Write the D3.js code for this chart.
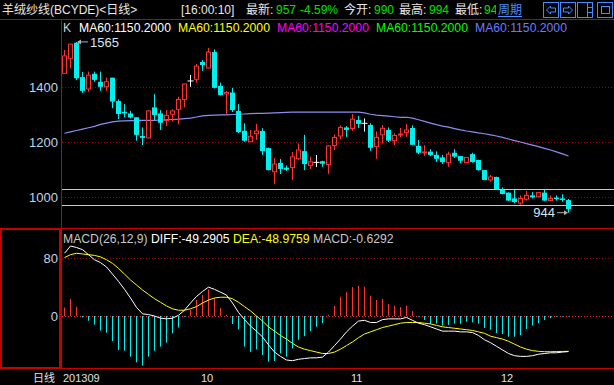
<!DOCTYPE html>
<html>
<head>
<meta charset="utf-8">
<script src="https://cdn.jsdelivr.net/npm/d3@7"></script>
<style>
body { margin: 0; background: #000; overflow: hidden; }
svg { display: block; }
text { font-family: "Liberation Sans", "Noto Sans CJK SC", sans-serif; }
</style>
</head>
<body>
<div id="chart"></div>
<script>
// daily candles
const opens  = [1451,1504,1562,1437,1394,1449,1420,1402,1435,1350,1311,1305,1291,1223,1216,1327,1305,1279,1302,1320,1356,1423,1429,1492,1470,1528,1405,1376,1381,1314,1242,1202,1231,1241,1179,1093,1125,1108,1108,1140,1168,1116,1127,1131,1119,1188,1223,1254,1250,1281,1269,1263,1184,1227,1245,1206,1227,1235,1252,1187,1162,1166,1154,1145,1126,1162,1150,1126,1157,1136,1099,1063,1074,1027,1017,996,979,993,1007,1002,1017,988,999,996,990];
const highs  = [1536,1557,1565,1456,1457,1457,1457,1435,1435,1356,1339,1314,1291,1254,1317,1375,1317,1317,1320,1366,1412,1445,1485,1499,1543,1538,1417,1387,1398,1339,1269,1245,1267,1251,1181,1143,1139,1116,1165,1196,1227,1148,1154,1133,1189,1228,1262,1259,1303,1296,1287,1269,1240,1263,1254,1233,1252,1267,1262,1208,1190,1175,1167,1154,1166,1175,1150,1146,1162,1136,1099,1081,1075,1036,1018,1027,1007,1023,1019,1019,1027,1007,1007,1011,994];
const lows   = [1451,1469,1426,1380,1384,1420,1387,1387,1324,1285,1291,1287,1206,1190,1216,1281,1245,1259,1275,1265,1327,1402,1417,1460,1468,1396,1370,1303,1310,1234,1202,1202,1208,1154,1098,1048,1085,1096,1063,1136,1099,1103,1110,1111,1085,1172,1211,1220,1242,1252,1239,1169,1140,1196,1201,1190,1218,1220,1189,1157,1150,1150,1128,1121,1111,1143,1124,1125,1126,1097,1062,1057,1027,1011,987,978,973,988,996,1000,987,987,988,984,944];
const closes = [1514,1557,1433,1387,1444,1427,1402,1420,1348,1303,1305,1290,1227,1216,1314,1299,1271,1298,1314,1356,1412,1423,1477,1481,1528,1398,1372,1381,1317,1237,1206,1222,1241,1168,1099,1121,1103,1100,1147,1172,1121,1129,1127,1122,1187,1218,1254,1245,1284,1267,1269,1180,1218,1251,1206,1225,1230,1245,1191,1162,1165,1154,1140,1128,1157,1148,1133,1145,1128,1099,1063,1074,1029,1012,988,983,996,1007,1000,1017,988,996,995,990,957];
const ma60   = [1233,1238,1243,1248,1253,1258,1265,1270,1274,1277,1278,1279,1279,1280,1280,1280,1281,1282,1283,1284,1286,1288,1292,1296,1298,1299,1300,1300,1301,1302,1303,1304,1305,1305,1306,1307,1308,1309,1310,1310,1310,1310,1310,1310,1310,1310,1310,1310,1310,1310,1307,1302,1299,1297,1295,1293,1291,1291,1288,1282,1276,1270,1264,1259,1255,1250,1245,1241,1238,1234,1231,1227,1223,1218,1212,1206,1201,1195,1190,1184,1178,1172,1165,1158,1150.2];

// MACD(26,12,9)
const diff = [87,97,95,92,85,78,74,68,58,48,37,25,12,3,2,0,-3,-4,-3,1,8,18,27,34,40,37,33,29,18,5,-5,-14,-21,-29,-40,-50,-56,-61,-62,-60,-59,-58,-58,-57,-50,-41,-32,-22,-14,-7,-6,-9,-9,-5,-4,-4,-4,-2,-6,-10,-12,-15,-18,-21,-21,-21,-22,-22,-23,-27,-33,-37,-42,-47,-52,-55,-56,-56,-55,-53,-52,-51,-51,-50,-49.2905];
const dea  = [81,85,87,86,85,84,82,78,73,66,58,50,43,36,30,24,19,14,10,8,8,10,13,18,22,25,26,26,24,19,13,7,0,-7,-15,-21,-27,-32,-38,-43,-46,-48,-50,-52,-52,-50,-46,-41,-36,-30,-25,-22,-19,-16,-14,-12,-10,-9,-9,-9,-10,-11,-13,-15,-16,-17,-18,-19,-20,-22,-24,-28,-30,-32,-35,-39,-43,-46,-48,-49,-49.5,-49.5,-49.3,-49.1,-48.9759];
const macdBars = [12,23.6,12.9,-1.8,-6.5,-12,-20.3,-23.1,-34.7,-47.2,-48.1,-56.4,-64.3,-68.9,-56.4,-48.1,-42.5,-37,-24,-16,-1,8.3,22.2,29.1,37,24.5,11.1,1.8,-11.1,-18.5,-42.5,-49.5,-46.2,-54.1,-63.3,-62.4,-51.8,-56.4,-45,-33,-28,-21,-15,-10,1.8,13.9,26.8,33,40,41.6,40.5,28.2,22.2,23.6,16.6,14,12.5,14.3,6.9,-0.9,-5.5,-11,-10.5,-13.4,-12.3,-10.6,-10.8,-7.9,-8.8,-10.6,-16.6,-19,-23.5,-25,-28.7,-28.7,-26.4,-18,-13,-10,-5.5,-3,-0.9,-0.9,-0.6292];

const priceTicks = [1000, 1200, 1400];
const macdTicks = [0, 80];
const refLines = [1029, 971];
const monthIdx = [0, 23, 48, 73];
const monthText = ['201309', '10', '11', '12'];
const maLegend = ['#ffffff', '#ffff00', '#ff00ff', '#00ff00', '#6a7cff'];

const width = 614, height = 385;
const RED = '#ff3232', CYAN = '#00f0f0', FRAME = '#c80000';

const svg = d3.select('#chart').append('svg')
              .attr('width', width)
              .attr('height', height);

const x = d3.scaleBand()
            .domain(d3.range(closes.length))
            .range([61, 61 + 6 * closes.length]);
const cx = i => x(i) + 3;

const y = d3.scaleLinear().domain([1000, 1400]).range([197.3, 87.3]);
const ym = d3.scaleLinear().domain([0, 80]).range([316, 258.3]);

// header
const head = svg.append('g').attr('font-size', 12);
const headItems = [
    [2, '羊绒纱线(BCYDE)<日线>', '#e8e8e8'],
    [181, '[16:00:10]', '#e8e8e8'],
    [246, '最新:', '#e8e8e8'],
    [276, '957', '#00e000'],
    [300, '-4.59%', '#00e000'],
    [344, '今开:', '#e8e8e8'],
    [374, '990', '#00e000'],
    [399, '最高:', '#e8e8e8'],
    [429, '994', '#00e000'],
    [455, '最低:', '#e8e8e8']
];
head.selectAll('text.h').data(headItems).enter().append('text')
    .attr('class', 'h')
    .attr('x', d => d[0]).attr('y', 14)
    .attr('fill', d => d[2])
    .text(d => d[1]);

svg.append('clipPath').attr('id', 'lowclip')
   .append('rect').attr('x', 0).attr('y', 0).attr('width', 496).attr('height', 19);
head.append('text')
    .attr('x', 484).attr('y', 14)
    .attr('fill', '#00e000')
    .attr('clip-path', 'url(#lowclip)')
    .text('94');
head.append('text')
    .attr('x', 498).attr('y', 14)
    .attr('fill', '#4a90ff')
    .text('周期');
head.append('line')
    .attr('x1', 498).attr('x2', 522).attr('y1', 16.5).attr('y2', 16.5)
    .attr('stroke', '#4a90ff');

// toolbar buttons
const btnX = [543, 560, 577, 597];
const btns = svg.append('g').attr('stroke', '#3f8cff').attr('fill', 'none');
btnX.forEach(bx => {
    btns.append('rect').attr('x', bx + 0.5).attr('y', 2.5).attr('width', 15).attr('height', 15);
});
btns.append('path').attr('d', 'M546.5,10 L550.5,6 L550.5,8 L555.5,8 L555.5,12 L550.5,12 L550.5,14 Z');
btns.append('path').attr('d', 'M572.5,10 L568.5,6 L568.5,8 L563.5,8 L563.5,12 L568.5,12 L568.5,14 Z');
btns.append('path').attr('d', 'M587.5,2.5 V17.5 M587.5,7.5 H592.5 M587.5,12.5 H592.5');
btns.append('rect').attr('x', 601.5).attr('y', 6.5).attr('width', 8).attr('height', 7);

// frame
const frame = svg.append('g').attr('stroke', FRAME);
frame.append('line').attr('x1', 0).attr('x2', width).attr('y1', 19.5).attr('y2', 19.5);
frame.append('line').attr('x1', 61.5).attr('x2', 61.5).attr('y1', 19).attr('y2', 369);
frame.append('line').attr('x1', 0).attr('x2', width).attr('y1', 228.5).attr('y2', 228.5);
frame.append('line').attr('x1', 0).attr('x2', width).attr('y1', 368.5).attr('y2', 368.5);
frame.append('rect').attr('x', 1).attr('y', 229).attr('width', 59).attr('height', 139)
     .attr('fill', 'none').attr('stroke-width', 2);

// grid
svg.append('g').selectAll('line').data(priceTicks).enter().append('line')
   .attr('x1', 62).attr('x2', width)
   .attr('y1', d => Math.round(y(d)) + 0.5).attr('y2', d => Math.round(y(d)) + 0.5)
   .attr('stroke', '#a00000').attr('stroke-dasharray', '1,2');
svg.append('g').selectAll('line').data(macdTicks).enter().append('line')
   .attr('x1', 62).attr('x2', width)
   .attr('y1', d => Math.round(ym(d)) + 0.5).attr('y2', d => Math.round(ym(d)) + 0.5)
   .attr('stroke', d => d === 0 ? '#ff2020' : '#a00000').attr('stroke-dasharray', '1,2');

svg.append('g').selectAll('line').data(refLines).enter().append('line')
   .attr('x1', 62).attr('x2', width)
   .attr('y1', d => Math.round(y(d)) + 0.5).attr('y2', d => Math.round(y(d)) + 0.5)
   .attr('stroke', '#c8c8c8');

// axes
const axP = svg.append('g').attr('transform', 'translate(58,0)')
               .call(d3.axisLeft(y).tickValues(priceTicks).tickFormat(d3.format('d'))
                       .tickSize(0).tickPadding(0));
const axM = svg.append('g').attr('transform', 'translate(58,0)')
               .call(d3.axisLeft(ym).tickValues(macdTicks).tickFormat(d3.format('d'))
                       .tickSize(0).tickPadding(0));
[axP, axM].forEach(a => {
    a.select('.domain').remove();
    a.selectAll('text').attr('fill', '#c0d4e8').attr('font-size', 13)
     .attr('font-family', '"Liberation Sans", sans-serif');
});

// MA60
svg.append('path')
   .datum(ma60)
   .attr('fill', 'none')
   .attr('stroke', '#8c8cf0')
   .attr('stroke-width', 1.2)
   .attr('d', d3.line().x((d, i) => cx(i) + 0.5).y(d => y(d)));

// candles
const candles = svg.append('g');
closes.forEach((c, i) => {
    const o = opens[i], h = highs[i], l = lows[i];
    const px = cx(i) + 0.5;
    const top = y(Math.max(o, c)), bot = y(Math.min(o, c));
    const g = candles.append('g');
    if (o === c) {
        g.append('line').attr('x1', px).attr('x2', px).attr('y1', y(h)).attr('y2', y(l)).attr('stroke', '#fff');
        g.append('line').attr('x1', px - 3).attr('x2', px + 3).attr('y1', top).attr('y2', top).attr('stroke', '#fff');
    } else if (c > o) {
        g.append('line').attr('x1', px).attr('x2', px).attr('y1', y(h)).attr('y2', top).attr('stroke', RED);
        g.append('line').attr('x1', px).attr('x2', px).attr('y1', bot).attr('y2', y(l)).attr('stroke', RED);
        g.append('rect').attr('x', px - 2).attr('y', top).attr('width', 4)
         .attr('height', Math.max(bot - top, 1)).attr('fill', 'none').attr('stroke', RED);
    } else {
        g.append('line').attr('x1', px).attr('x2', px).attr('y1', y(h)).attr('y2', y(l)).attr('stroke', CYAN);
        g.append('rect').attr('x', px - 2.5).attr('y', top).attr('width', 5)
         .attr('height', Math.max(bot - top, 1.5)).attr('fill', CYAN);
    }
});

// high / low marks
const hiI = d3.maxIndex(highs), loI = d3.minIndex(lows);
const marks = svg.append('g').attr('font-size', 13).attr('fill', '#d8e4f0');
marks.append('line').attr('x1', cx(hiI) + 2).attr('x2', cx(hiI) + 12)
     .attr('y1', y(highs[hiI])).attr('y2', y(highs[hiI])).attr('stroke', '#b0b0b0');
marks.append('path').attr('d', `M${cx(hiI) + 1},${y(highs[hiI])} l4,-2.5 v5 z`).attr('fill', '#b0b0b0');
marks.append('text').attr('x', cx(hiI) + 14).attr('y', y(highs[hiI])).attr('dy', '0.36em')
     .text(highs[hiI]);
marks.append('line').attr('x1', cx(loI) - 11).attr('x2', cx(loI) - 1)
     .attr('y1', y(lows[loI])).attr('y2', y(lows[loI])).attr('stroke', '#b0b0b0');
marks.append('path').attr('d', `M${cx(loI)},${y(lows[loI])} l-4,-2.5 v5 z`).attr('fill', '#b0b0b0');
marks.append('text').attr('x', cx(loI) - 13).attr('y', y(lows[loI])).attr('dy', '0.36em')
     .attr('text-anchor', 'end').text(lows[loI]);

// MA legend
const leg = svg.append('g').attr('font-size', 12.2);
leg.append('text').attr('x', 63).attr('y', 32).attr('fill', '#d0d0d0').text('K');
leg.selectAll('text.ma').data(maLegend).enter().append('text')
   .attr('class', 'ma')
   .attr('x', (d, k) => 79 + 99 * k).attr('y', 32)
   .attr('fill', d => d)
   .text('MA60:' + ma60[ma60.length - 1].toFixed(4));

// MACD histogram
svg.append('g').selectAll('line').data(macdBars).enter().append('line')
   .attr('x1', (d, i) => cx(i) + 0.5).attr('x2', (d, i) => cx(i) + 0.5)
   .attr('y1', ym(0)).attr('y2', d => ym(d))
   .attr('stroke', d => d >= 0 ? RED : CYAN);

svg.append('path').datum(dea)
   .attr('fill', 'none').attr('stroke', '#ffff00')
   .attr('d', d3.line().x((d, i) => cx(i) + 0.5).y(d => ym(d)));
svg.append('path').datum(diff)
   .attr('fill', 'none').attr('stroke', '#ffffff')
   .attr('d', d3.line().x((d, i) => cx(i) + 0.5).y(d => ym(d)));

const last = closes.length - 1;
const mleg = svg.append('text').attr('x', 63).attr('y', 243).attr('font-size', 12.2);
mleg.append('tspan').attr('fill', '#c8c8c8').text('MACD(26,12,9) ');
mleg.append('tspan').attr('fill', '#ffffff').text('DIFF:' + diff[last].toFixed(4) + ' ');
mleg.append('tspan').attr('fill', '#ffff00').text('DEA:' + dea[last].toFixed(4) + ' ');
mleg.append('tspan').attr('fill', '#c8c8c8').text('MACD:' + macdBars[last].toFixed(4));

// bottom date labels
const bottom = svg.append('g').attr('font-size', 11).attr('fill', '#e0e0e0');
bottom.append('text').attr('x', 55).attr('y', 382).attr('text-anchor', 'end')
      .attr('font-family', '"Noto Sans CJK SC", sans-serif').text('日线');
bottom.selectAll('text.m').data(monthIdx).enter().append('text')
      .attr('class', 'm')
      .attr('x', d => cx(d) - 1).attr('y', 382)
      .text((d, k) => monthText[k]);
</script>
</body>
</html>
